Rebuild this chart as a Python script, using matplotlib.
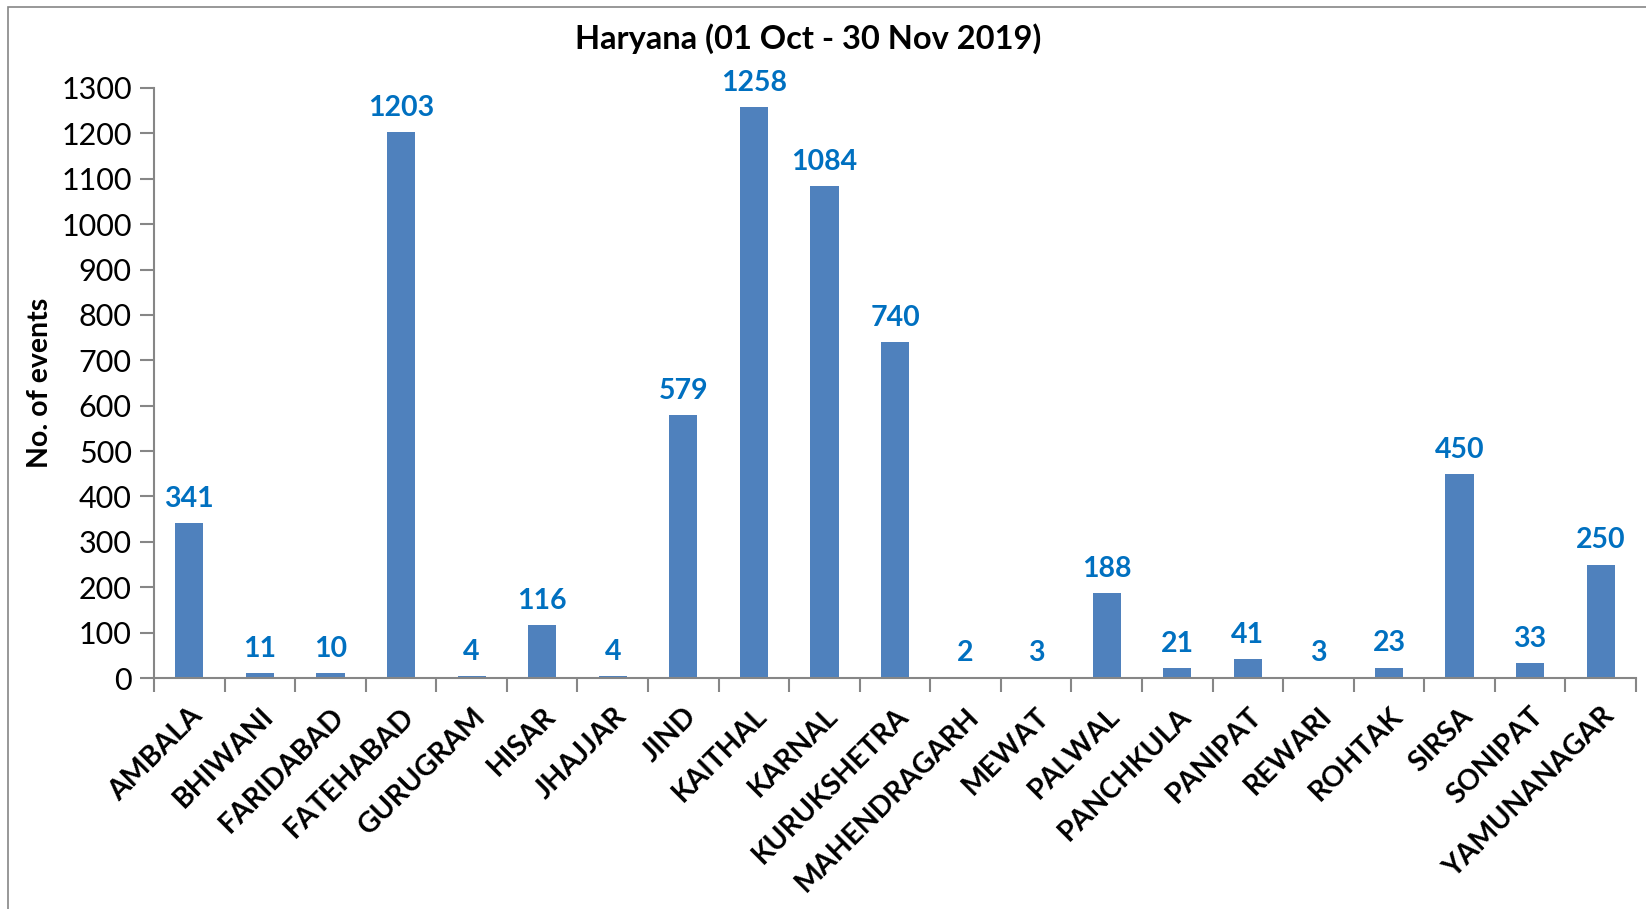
import matplotlib
matplotlib.use("Agg")
import matplotlib.pyplot as plt
from matplotlib.patches import Rectangle

districts = ["AMBALA", "BHIWANI", "FARIDABAD", "FATEHABAD", "GURUGRAM", "HISAR", "JHAJJAR",
             "JIND", "KAITHAL", "KARNAL", "KURUKSHETRA", "MAHENDRAGARH", "MEWAT", "PALWAL",
             "PANCHKULA", "PANIPAT", "REWARI", "ROHTAK", "SIRSA", "SONIPAT", "YAMUNANAGAR"]
events = [341, 11, 10, 1203, 4, 116, 4, 579, 1258, 1084, 740, 2, 3, 188, 21, 41, 3, 23, 450, 33, 250]
yticks = list(range(0, 1301, 100))
title = "Haryana (01 Oct - 30 Nov 2019)"
ylabel = "No. of events"

plt.rcParams['font.family'] = ['Lato', 'DejaVu Sans']

fig = plt.figure(figsize=(16.46, 9.09), dpi=100)
ax = fig.add_axes([0.0936, 0.2541, 0.9003, 0.6491])

x = list(range(len(districts)))
bars = ax.bar(x, events, width=0.4, color="#4F81BD", zorder=2)
for xi, v in zip(x, events):
    ax.annotate(str(v), (xi, v), xytext=(0, 8), textcoords="offset points",
                ha="center", va="bottom", color="#0070C0", fontsize=20.5, fontweight="bold")

ax.set_xlim(-0.5, len(districts) - 0.5)
ax.set_ylim(0, 1300)
ax.set_yticks(yticks)
ax.set_yticklabels([str(t) for t in yticks], fontsize=22)
ax.set_xticks([i - 0.5 for i in range(len(districts) + 1)], minor=False)
ax.set_xticklabels([])
ax.set_xticks(x, minor=True)
ax.set_xticklabels(districts, minor=True, rotation=45, ha="right", rotation_mode="anchor",
                   fontsize=20.5, fontweight="bold")
ax.tick_params(axis="x", which="minor", length=0, pad=18)
ax.tick_params(axis="x", which="major", length=10, width=1.5, color="#868686", direction="out")
ax.tick_params(axis="y", length=10, width=1.5, color="#868686", direction="out", pad=6)

for s in ["top", "right"]:
    ax.spines[s].set_visible(False)
for s in ["left", "bottom"]:
    ax.spines[s].set_color("#868686")
    ax.spines[s].set_linewidth(1.5)

ax.set_ylabel(ylabel, fontsize=20.5, fontweight="bold", labelpad=6)
fig.text(0.491, 0.958, title, ha="center", va="center", fontsize=23.5, fontweight="bold")

fig.patches.append(Rectangle((8 / 1646, -0.01), 1.02, 1 - 7 / 909 + 0.01, transform=fig.transFigure,
                             fill=False, edgecolor="#868686", linewidth=1.2))

fig.savefig("out.png", dpi=100)
